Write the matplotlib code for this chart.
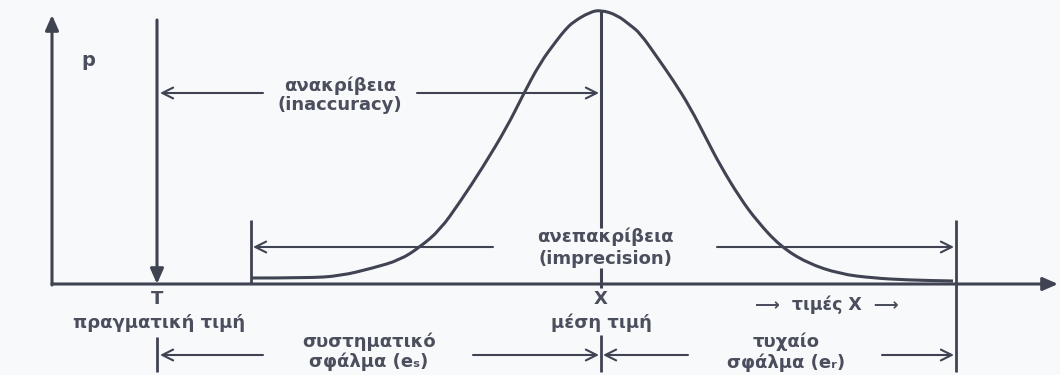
import matplotlib.pyplot as plt
from matplotlib.path import Path
from matplotlib.patches import PathPatch

plt.rcParams['font.family'] = ['DejaVu Sans']

line_col = '#3f4352'
text_col = '#4b4f5d'
bg_col = '#f8f9fb'

# bell curve p(x), points picked along the drawn curve
curve_x = [19.9, 25.5, 28.8, 32.1, 34.8, 36.8, 38.8, 40.8, 43.1, 45.5, 47.1,
           48.8, 50.5, 51.3, 52.1, 53.8, 54.9, 56.5, 57.8, 58.8, 60.5, 62.1, 63.8,
           65.5, 66.8, 68.8, 70.5, 72.8, 75.5, 78.8, 82.1, 85.5, 90.1]
curve_p = [0.6, 0.6, 0.8, 1.6, 2.4, 3.7, 5.4, 8.2, 11.7, 15.7, 18.9,
           22.1, 24.4, 25.4, 26.2, 27.2, 27.4, 26.9, 25.9, 25.1, 22.7, 20.4, 17.7,
           14.4, 11.9, 8.6, 6.3, 3.8, 2.1, 1.0, 0.6, 0.4, 0.3]

true_val = 10.5      # T
mean_val = 54.9      # X
spread = [19.9, 90.4]
x_end = 100.6
p_end = 26.9

lbl_true = ['T', 'πραγματική τιμή']
lbl_mean = ['X', 'μέση τιμή']
lbl_inacc = ['ανακρίβεια', '(inaccuracy)']
lbl_impr = ['ανεπακρίβεια', '(imprecision)']
lbl_sys = ['συστηματικό', 'σφάλμα (eₛ)']
lbl_rand = ['τυχαίο', 'σφάλμα (eᵣ)']
lbl_axis_x = '⟶  τιμές X  ⟶'
lbl_axis_p = 'p'

fig = plt.figure(figsize=(10.6, 3.75), dpi=100, facecolor=bg_col)
ax = fig.add_axes([0, 0, 1, 1])
ax.set_facecolor(bg_col)
ax.set_xlim(-5.2, 100.8)
ax.set_ylim(-9.1, 28.4)
ax.axis('off')


def arrow(x0, y0, x1, y1, style='->,head_length=0.6,head_width=0.3', lw=1.5, ms=13):
    ax.annotate('', xy=(x1, y1), xytext=(x0, y0),
                arrowprops=dict(arrowstyle=style, color=line_col, lw=lw,
                                shrinkA=0, shrinkB=0, mutation_scale=ms))


def vline(x, y0, y1, lw=2.0):
    ax.plot([x, x], [y0, y1], color=line_col, lw=lw, solid_capstyle='butt')


def label(x, y, s, size=13):
    ax.text(x, y, s, ha='center', va='center', fontsize=size,
            fontweight='bold', color=text_col)


# axes with filled heads
solid = '-|>,head_length=0.5,head_width=0.22'
arrow(0, -0.1, 0, p_end, solid, lw=2.2, ms=18)
arrow(0, 0, x_end, 0, solid, lw=2.2, ms=18)
arrow(true_val, 26.4, true_val, 0, solid, lw=2.2, ms=18)

# bell curve: quadratic bezier through the picked points so it draws smooth
pts = list(zip(curve_x, curve_p))
verts = [pts[0]]
codes = [Path.MOVETO]
for a, b in zip(pts[1:-1], pts[2:]):
    verts += [a, ((a[0] + b[0]) / 2, (a[1] + b[1]) / 2)]
    codes += [Path.CURVE3, Path.CURVE3]
verts.append(pts[-1])
codes.append(Path.LINETO)
ax.add_patch(PathPatch(Path(verts, codes), fill=False, edgecolor=line_col,
                       lw=2.2, joinstyle='round'))

# mean line, broken around the imprecision label
vline(mean_val, max(curve_p), 5.6, lw=2.2)
vline(mean_val, 1.6, -0.4, lw=2.2)

# spread limits
vline(spread[0], 6.4, 0)
vline(spread[1], 6.4, -8.8)

# inaccuracy T <-> X
y_in = 19.1
arrow(21.1, y_in, true_val + 0.3, y_in)
arrow(36.5, y_in, mean_val - 0.2, y_in)
label(28.8, 19.8, lbl_inacc[0])
label(28.8, 17.9, lbl_inacc[1])

# imprecision across the spread
y_im = 3.7
arrow(44.1, y_im, spread[0] + 0.2, y_im)
arrow(66.5, y_im, spread[1] - 0.2, y_im)
label(55.3, 4.7, lbl_impr[0])
label(55.3, 2.5, lbl_impr[1])

# axis labels
label(3.6, 22.3, lbl_axis_p, size=14)
label(true_val, -1.5, lbl_true[0])
label(true_val + 0.2, -3.9, lbl_true[1])
label(mean_val, -1.5, lbl_mean[0])
label(mean_val, -3.9, lbl_mean[1])
label(77.5, -2.1, lbl_axis_x, size=12.5)

# errors under the axis
vline(true_val, -5.3, -8.8)
vline(mean_val, -5.1, -8.8)
y_err = -7.1
arrow(21.1, y_err, true_val + 0.3, y_err)
arrow(42.1, y_err, mean_val - 0.2, y_err)
label(31.7, -5.8, lbl_sys[0])
label(31.7, -7.8, lbl_sys[1])
arrow(63.6, y_err, mean_val + 0.2, y_err)
arrow(83.0, y_err, spread[1] - 0.2, y_err)
label(73.4, -5.8, lbl_rand[0])
label(73.4, -7.9, lbl_rand[1])

fig.savefig('out.png', dpi=100, facecolor=bg_col)
